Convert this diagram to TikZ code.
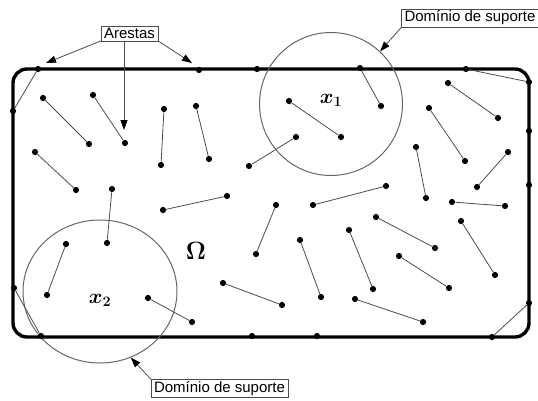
\documentclass[tikz,border=0pt]{standalone}
\usepackage{fontspec}
\setmainfont{Liberation Sans}
\usepackage{amsmath,amssymb}
\usepackage{tikz}
\usetikzlibrary{positioning,arrows.meta,shapes.geometric}

\begin{document}
\begin{tikzpicture}[x=1pt, y=-1pt,
  pt/.style={circle, fill=black, inner sep=0pt, minimum size=6.2pt},
  seg/.style={draw=black!70, line width=0.8pt},
  region/.style={draw=black, line width=3.4pt, rounded corners=14pt},
  support/.style={draw=black!60, line width=1pt, inner sep=0pt},
  tag/.style={draw=black!70, fill=white, font=\fontsize{15}{16}\selectfont, inner xsep=3pt, inner ysep=2pt},
  mathlabel/.style={font=\fontsize{20}{20}\selectfont},
  arr/.style={draw=black!70, line width=0.8pt, -{Triangle[length=10pt, width=7pt, color=black]}}
]
\useasboundingbox (0,0) rectangle (538,400);

% domain Omega
\draw[region] (13,69) rectangle (529,337);

% support domains
\node[support, circle, minimum size=143pt] (dom1) at (331,104) {};
\node[support, ellipse, minimum width=154pt, minimum height=143pt] (dom2) at (100,291.5) {};

% edges (segments) with their end points
\foreach \ax/\ay/\bx/\by [count=\i] in {
  43/98/89/144, 93/95/125/143, 164/109/161/165, 196/106/209/159,
  35/152/76/190, 112/189/107/243, 249/166/296/137, 163/210/227/196,
  289/101/341/137, 360/68/381/106, 448/83/498/118, 429/108/465/161,
  416/147/426/198, 508/152/477/187, 313/205/386/186, 452/202/505/206,
  376/217/435/248, 461/221/495/275, 300/240/321/297, 349/230/373/289,
  399/256/449/288, 355/299/423/322, 276/205/256/254, 223/283/282/305,
  66/244/47/295, 148/298/192/322,
  38/69/13/111, 466/69/529/82, 492/337/529/303, 14/288/41/336}
{
  \node[pt] (e\i a) at (\ax,\ay) {};
  \node[pt] (e\i b) at (\bx,\by) {};
  \draw[seg] (e\i a) -- (e\i b);
}

% single points on the boundary
\foreach \px/\py [count=\j] in {199/70, 257/69, 529/131, 529/185, 317/336, 252/336}
{
  \node[pt] (b\j) at (\px,\py) {};
}

% labels
\node[mathlabel] (lx1) at (331,100) {$\boldsymbol{x_1}$};
\node[mathlabel] (lx2) at (100,300) {$\boldsymbol{x_2}$};
\node[mathlabel, font=\fontsize{26}{26}\selectfont] (omega) at (196,251) {$\boldsymbol{\Omega}$};

\node[tag] (arestas) at (129.5,33.5) {Arestas};
\coordinate (tipL) at (46,63);
\coordinate (tipM) at (124,130);
\coordinate (tipR) at (192,63);
\draw[arr] (arestas.south west) -- (tipL);
\draw[arr] (arestas.south -| tipM) -- (tipM);
\draw[arr] (arestas.south east) -- (tipR);

\node[tag] (sup1) at (470,18) {Domínio de suporte};
\node[tag] (sup2) at (219.5,388.5) {Domínio de suporte};
\draw[arr] (sup1.south west) -- (dom1.47);
\draw[arr] (sup2.north west) -- (dom2.-65);
\end{tikzpicture}
\end{document}
